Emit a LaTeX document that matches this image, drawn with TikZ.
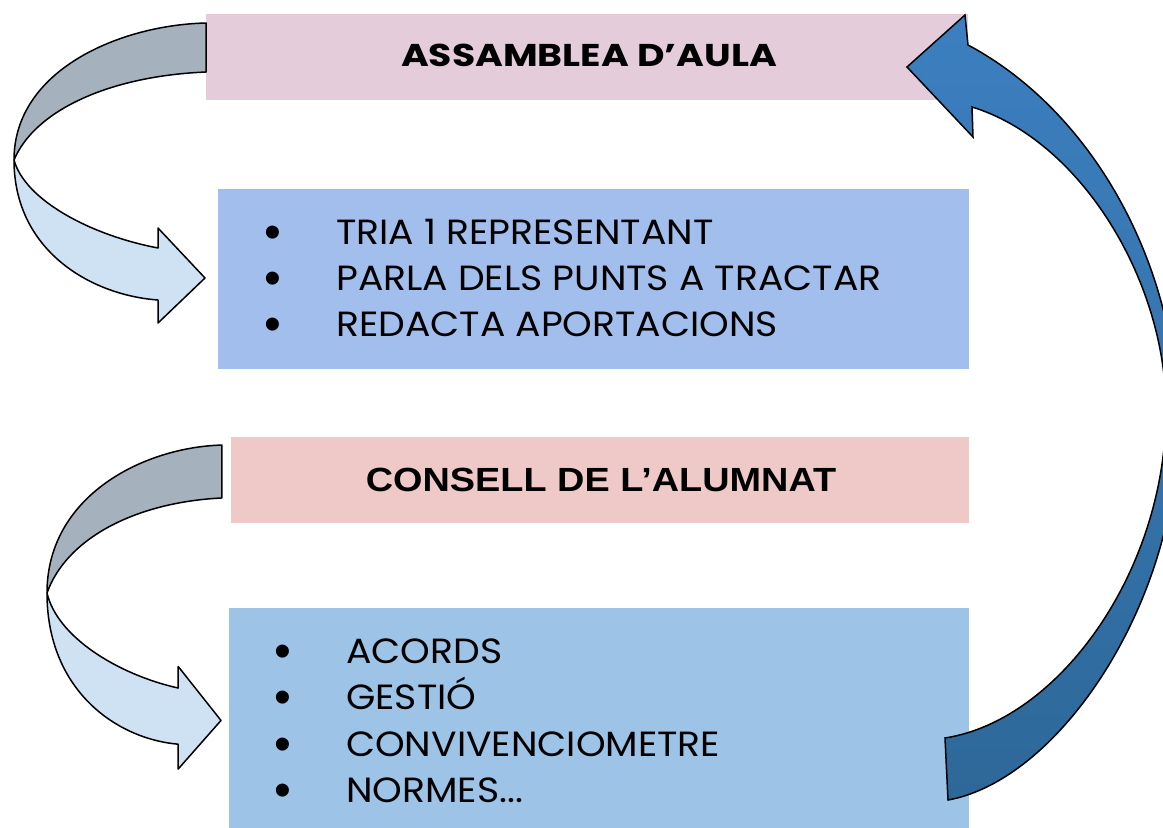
\documentclass[tikz,border=0pt]{standalone}
\usepackage{fontspec}
\setmainfont{Poppins}
\newfontfamily\arialfont{Liberation Sans}
\newfontfamily\titlefont{Poppins}[FakeStretch=1.2]
\newfontfamily\councilfont{Liberation Sans}[FakeStretch=1.13]
\newfontfamily\listfont{Poppins}[FakeStretch=1.078]
\usetikzlibrary{positioning}
\definecolor{pinkA}{HTML}{E5CCDB}
\definecolor{blueA}{HTML}{A1BEEC}
\definecolor{pinkB}{HTML}{EFC8C8}
\definecolor{blueB}{HTML}{9DC3E6}
\definecolor{backgrey}{HTML}{A5B2BE}
\definecolor{frontblue}{HTML}{CFE2F3}
\definecolor{bigtop}{HTML}{3C7FC0}
\definecolor{bigbottom}{HTML}{2E6899}
\newcommand*{\bulletmark}{\makebox[72pt][l]{\raisebox{-4pt}{\fontsize{48}{48}\arialfont\textbullet}}}
\newcommand*{\curlarrow}{%
 \filldraw[frontband] (14,160) .. controls (14,250) and (90,295) .. (158,300)
  -- (158,323) -- (205,278) -- (158,228) -- (158,248)
  .. controls (90,235) and (25,200) .. (14,160) -- cycle;
 \filldraw[backband] (206,23) .. controls (120,25) and (14,70) .. (14,160)
  .. controls (35,110) and (110,76) .. (206,72) -- cycle;}
\tikzset{
 box/.style={anchor=north west, inner sep=0pt, outer sep=0pt},
 title/.style={anchor=base, inner sep=0pt},
 item/.style={anchor=base west, inner sep=0pt, font=\listfont\fontsize{35}{46}\selectfont},
 backband/.style={fill=backgrey, draw=black, line width=1.5pt, line join=round},
 frontband/.style={fill=frontblue, draw=black, line width=1.5pt, line join=round},
 bigarrow/.style={top color=bigtop, bottom color=bigbottom, draw=black, line width=1.5pt, line join=miter}
}

\begin{document}
\begin{tikzpicture}[x=1pt, y=-1pt]
 \useasboundingbox (0,0) rectangle (1163,828);
 \clip (0,0) rectangle (1163,828);

 % boxes
 \node[box, fill=pinkA, minimum width=762, minimum height=86] (assemblea) at (206,14) {};
 \node[box, fill=blueA, minimum width=751, minimum height=180] (tasques) at (218,189) {};
 \node[box, fill=pinkB, minimum width=738, minimum height=86] (consell) at (231,437) {};
 \node[box, fill=blueB, minimum width=740, minimum height=230] (resultats) at (229,608) {};

 % titles
 \node[title, font=\titlefont\bfseries\fontsize{31.5}{36}\selectfont] (assembleaT) at (589,66) {ASSAMBLEA D’AULA};
 \node[title, font=\councilfont\bfseries\fontsize{33.5}{38}\selectfont] (consellT) at (601,491) {CONSELL DE L’ALUMNAT};

 % lists
 \node[item] (tria) at (264,244) {\bulletmark TRIA 1 REPRESENTANT};
 \node[item] (parla) at (264,290) {\bulletmark PARLA DELS PUNTS A TRACTAR};
 \node[item] (redacta) at (264,336) {\bulletmark REDACTA APORTACIONS};
 \node[item] (acords) at (274,663) {\bulletmark ACORDS};
 \node[item] (gestio) at (274,709) {\bulletmark GESTIÓ};
 \node[item] (convivencia) at (274,756) {\bulletmark CONVIVENCIOMETRE};
 \node[item] (normes) at (274,802) {\bulletmark NORMES...};

 % curled arrows on the left
 \begin{scope}
  \curlarrow
 \end{scope}
 \begin{scope}[shift={(47,593)}, xscale=0.911, yscale=1.08, shift={(-14,-160)}]
  \curlarrow
 \end{scope}

 % big arrow back to the top
 \filldraw[bigarrow] (948,800) .. controls (1060,780) and (1180,600) .. (1178,420)
  .. controls (1176,260) and (1090,110) .. (968,45)
  -- (965,15) -- (907,67) -- (973,137) -- (972,107)
  .. controls (1080,140) and (1166,280) .. (1166,410)
  .. controls (1166,570) and (1060,720) .. (945,738) -- cycle;
\end{tikzpicture}
\end{document}
